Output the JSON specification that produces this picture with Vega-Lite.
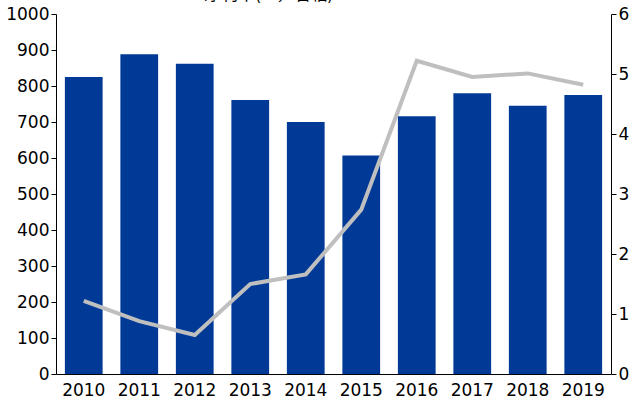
{
  "$schema": "https://vega.github.io/schema/vega-lite/v6.json",
  "width": 639,
  "height": 403,
  "autosize": {"type": "fit", "contains": "padding"},
  "padding": {"left": 5, "right": 10, "top": 5, "bottom": 5},
  "config": {
    "view": {"stroke": null},
    "font": "DejaVu Sans",
    "axis": {"labelFontSize": 17, "labelColor": "#000", "domainColor": "#000", "tickColor": "#000", "grid": false, "title": null, "labelFont": "DejaVu Sans", "labelOverlap": false, "labelFlush": false},
    "legend": {"labelFontSize": 17, "labelColor": "#000", "labelFont": "Noto Sans CJK SC", "orient": "none", "title": null, "labelLimit": 500}
  },
  "data": {"values": [
    {"year": "2010", "rev": 825, "margin": 1.22},
    {"year": "2011", "rev": 888, "margin": 0.88},
    {"year": "2012", "rev": 862, "margin": 0.65},
    {"year": "2013", "rev": 761, "margin": 1.5},
    {"year": "2014", "rev": 700, "margin": 1.66},
    {"year": "2015", "rev": 607, "margin": 2.74},
    {"year": "2016", "rev": 716, "margin": 5.22},
    {"year": "2017", "rev": 780, "margin": 4.95},
    {"year": "2018", "rev": 745, "margin": 5.01},
    {"year": "2019", "rev": 775, "margin": 4.82}
  ]},
  "encoding": {
    "x": {"field": "year", "type": "nominal", "scale": {"paddingInner": 0.32, "paddingOuter": 0.16},
      "axis": {"labelAngle": 0, "ticks": false, "labelPadding": 8}}
  },
  "layer": [
    {
      "mark": {"type": "bar", "color": "#003A96"},
      "encoding": {
        "y": {"field": "rev", "type": "quantitative", "scale": {"domain": [0, 1000]}, "axis": {"values": [0,100,200,300,400,500,600,700,800,900,1000], "format": "d", "orient": "left"}},
        "fill": {"datum": "营业总收入（亿元，CNY，历史汇率）", "type": "nominal", "scale": {"range": ["#003A96"]}, "legend": {"symbolType": "square", "symbolSize": 500, "legendX": 110, "legendY": -64}}
      }
    },
    {
      "mark": {"type": "line", "strokeWidth": 4},
      "encoding": {
        "y": {"field": "margin", "type": "quantitative", "scale": {"domain": [0, 6]}, "axis": {"orient": "right", "values": [0,1,2,3,4,5,6]}},
        "stroke": {"datum": "净利率(%，右轴)", "type": "nominal", "scale": {"range": ["#BFBFBF"]}, "legend": {"symbolType": "stroke", "symbolStrokeWidth": 4, "symbolSize": 900, "legendX": 110, "legendY": -36}}
      }
    }
  ],
  "resolve": {"scale": {"y": "independent", "fill": "independent", "stroke": "independent"}}
}
